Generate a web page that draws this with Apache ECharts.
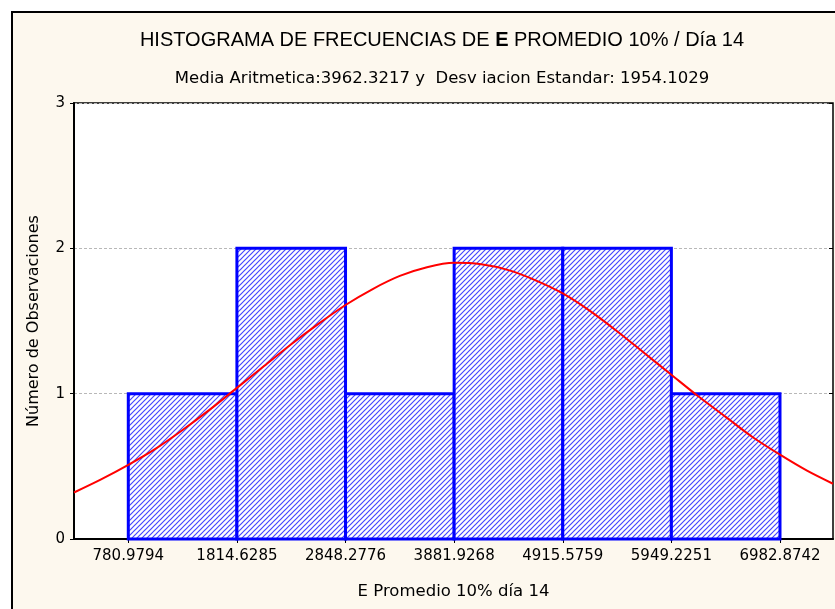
<!DOCTYPE html>
<html>
<head>
<meta charset="utf-8">
<script src="https://cdn.jsdelivr.net/npm/echarts@6/dist/echarts.min.js"></script>
<style>
  html, body { margin: 0; padding: 0; background: #ffffff; }
  #chart { width: 835px; height: 609px; }
</style>
</head>
<body>
<div id="chart"></div>
<script>
// datos del histograma
var binEdges = [780.9794, 1814.6285, 2848.2776, 3881.9268, 4915.5759, 5949.2251, 6982.8742];
var counts = [1, 2, 1, 2, 2, 1];
// curva normal
var curveX = [264.3, 522, 780.98, 1039, 1297.8, 1556, 1814.63, 2073, 2331.45, 2590, 2848.28, 3107, 3365.1, 3623.5, 3881.93,
              4140, 4398.75, 4657, 4915.58, 5174, 5432.4, 5691, 5949.23, 6208, 6466.05, 6724, 6982.87, 7240, 7487.3];
var curveY = [0.32, 0.41, 0.51, 0.62, 0.75, 0.89, 1.04, 1.19, 1.34, 1.48, 1.61, 1.72, 1.81, 1.87, 1.90,
              1.89, 1.85, 1.78, 1.69, 1.57, 1.43, 1.28, 1.13, 0.98, 0.84, 0.70, 0.58, 0.47, 0.38];
var yTicks = [0, 1, 2, 3];

// trama diagonal de las barras
var tile = document.createElement('canvas');
tile.width = 5; tile.height = 5;
var ctx = tile.getContext('2d');
ctx.fillStyle = '#ffffff';
ctx.fillRect(0, 0, 5, 5);
ctx.strokeStyle = '#4646ff';
ctx.lineWidth = 1.2;
ctx.beginPath();
ctx.moveTo(-1, 6); ctx.lineTo(6, -1);
ctx.moveTo(-1, 1); ctx.lineTo(1, -1);
ctx.moveTo(4, 6); ctx.lineTo(6, 4);
ctx.stroke();

var barData = counts.map(function (c, i) { return [binEdges[i], binEdges[i + 1], c]; });
var lineData = curveX.map(function (x, i) { return [x, curveY[i]]; });

var dom = document.getElementById('chart');
var myChart = echarts.init(dom);
var option = {
  backgroundColor: '#ffffff',
  textStyle: { fontFamily: 'DejaVu Sans' },
  graphic: [{
    type: 'rect', z: -10, silent: true,
    shape: { x: 12, y: 12, width: 900, height: 700 },
    style: { fill: '#fdf8ee', stroke: '#000000', lineWidth: 2 }
  }],
  title: [{
    text: '{n|HISTOGRAMA DE FRECUENCIAS DE }{b|E}{n| PROMEDIO 10% / Día 14}',
    left: 437, top: 25, textAlign: 'center',
    textStyle: {
      fontWeight: 'normal',
      rich: {
        n: { fontFamily: 'Liberation Sans', fontSize: 20, fontWeight: 'normal', color: '#000' },
        b: { fontFamily: 'Liberation Sans', fontSize: 20, fontWeight: 'bold', color: '#000' }
      }
    }
  }, {
    text: 'Media Aritmetica:3962.3217 y  Desv iacion Estandar: 1954.1029',
    left: 437, top: 65, textAlign: 'center',
    textStyle: { fontFamily: 'DejaVu Sans', fontSize: 16.5, fontWeight: 'normal', color: '#000' }
  }],
  grid: {
    left: 74, right: 2, top: 103, bottom: 70,
    show: true, backgroundColor: '#ffffff', borderColor: '#000', borderWidth: 1.5
  },
  xAxis: [{
    type: 'value', min: 264.3, max: 7487.3,
    name: 'E Promedio 10% día 14', nameLocation: 'middle', nameGap: 44,
    nameTextStyle: { fontSize: 16.5, color: '#000' },
    axisLine: { lineStyle: { color: '#000', width: 2 } },
    axisTick: { customValues: binEdges, length: 3, lineStyle: { color: '#000' } },
    axisLabel: {
      customValues: binEdges, fontSize: 15, color: '#000', margin: 10,
      formatter: function (v) { return v.toFixed(4); }
    },
    splitLine: { show: false }
  }, {
    type: 'value', position: 'top', min: 264.3, max: 7487.3,
    axisLine: { show: false },
    axisTick: { customValues: binEdges, inside: true, length: 4, lineStyle: { color: '#000' } },
    axisLabel: { show: false },
    splitLine: { show: false }
  }],
  yAxis: [{
    type: 'value', min: 0, max: 3, interval: 1,
    name: 'Número de Observaciones', nameLocation: 'middle', nameGap: 32,
    nameTextStyle: { fontSize: 16, color: '#000' },
    axisLine: { show: true, lineStyle: { color: '#000', width: 2 } },
    axisTick: { show: true, length: 4, customValues: yTicks, lineStyle: { color: '#000' } },
    axisLabel: { fontSize: 15, color: '#000', margin: 9, customValues: yTicks },
    splitLine: { show: true, lineStyle: { color: '#b8b8b8', type: [3, 2], width: 1 } }
  }, {
    type: 'value', position: 'right', min: 0, max: 3, interval: 1,
    axisLine: { show: false },
    axisTick: { show: true, inside: true, length: 4, lineStyle: { color: '#000' } },
    axisLabel: { show: false },
    splitLine: { show: false }
  }],
  series: [{
    type: 'custom',
    xAxisIndex: 0, yAxisIndex: 0,
    encode: { x: [0, 1], y: 2 },
    data: barData,
    renderItem: function (params, api) {
      var p0 = api.coord([api.value(0), 0]);
      var p1 = api.coord([api.value(1), api.value(2)]);
      return {
        type: 'rect',
        shape: { x: p0[0], y: p1[1], width: p1[0] - p0[0], height: p0[1] - p1[1] },
        style: { fill: { image: tile, repeat: 'repeat' }, stroke: '#0000ff', lineWidth: 3 }
      };
    },
    z: 2
  }, {
    type: 'line',
    xAxisIndex: 0, yAxisIndex: 0,
    data: lineData,
    smooth: 0.3,
    showSymbol: false,
    lineStyle: { color: '#ff0000', width: 2 },
    z: 3
  }]
};
myChart.setOption(option);
</script>
</body>
</html>
